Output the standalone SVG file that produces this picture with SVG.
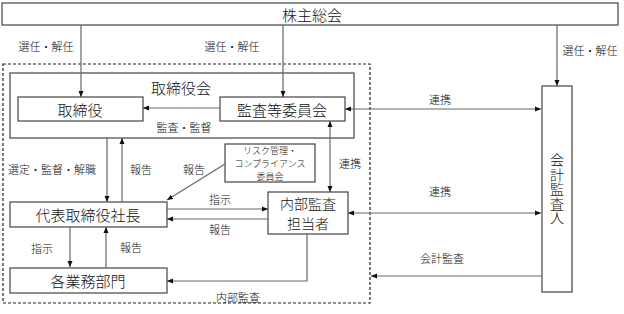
<svg xmlns="http://www.w3.org/2000/svg" width="624" height="314" viewBox="0 0 624 314">
<defs>
<marker id="ah" viewBox="0 0 6 6" refX="6" refY="3" markerWidth="6" markerHeight="6" markerUnits="userSpaceOnUse" orient="auto-start-reverse">
<path d="M0,0.5 L6,3 L0,5.5 Z" fill="#111"/>
</marker>
<style>
.box{fill:#fff;stroke:#444;stroke-width:1.2}
.grp{fill:none;stroke:#444;stroke-width:1.2}
.dash{fill:none;stroke:#222;stroke-width:1.2;stroke-dasharray:3,2}
.ln{fill:none;stroke:#666;stroke-width:1.2}
.t{font-family:"Noto Sans CJK JP","Noto Sans",sans-serif;font-weight:300;fill:#111;text-anchor:middle;dominant-baseline:central}
.big{font-size:15px}
.mid{font-size:14px}
.vert{font-family:"Noto Sans CJK JP","Noto Sans",sans-serif;font-weight:300;fill:#111;font-size:14px;writing-mode:vertical-rl;text-anchor:middle;letter-spacing:0.5px}
.lab{font-size:11px}
.sm{font-size:9px}
</style>
</defs>
<rect width="624" height="314" fill="#fff"/>
<g id="outer-scope"><rect class="dash" x="3" y="64" width="367" height="239"/></g>
<g id="shareholders"><rect class="box" x="2" y="3" width="616" height="22"/><text class="t big" x="312" y="14">株主総会</text></g>
<g id="board"><rect class="grp" x="10" y="73" width="344" height="65"/><text class="t big" x="181" y="87">取締役会</text></g>
<g id="directors"><rect class="box" x="18" y="97" width="125" height="24"/><text class="t big" x="80" y="109">取締役</text></g>
<g id="audit-committee"><rect class="box" x="220" y="97" width="125" height="24"/><text class="t big" x="282" y="109">監査等委員会</text></g>
<g id="risk-committee"><rect class="box" x="225" y="144" width="90" height="38"/>
<text class="t sm" x="270" y="150"><tspan x="270" y="150">リスク管理・</tspan><tspan x="270" y="163">コンプライアンス</tspan><tspan x="270" y="176">委員会</tspan></text></g>
<g id="president"><rect class="box" x="10" y="202" width="157" height="25"/><text class="t big" x="88" y="214">代表取締役社長</text></g>
<g id="internal-audit"><rect class="box" x="268" y="192" width="80" height="42"/><text class="t mid" x="308" y="203"><tspan x="308" y="203">内部監査</tspan><tspan x="308" y="223.3">担当者</tspan></text></g>
<g id="departments"><rect class="box" x="10" y="268" width="157" height="25"/><text class="t big" x="88" y="280">各業務部門</text></g>
<g id="accounting-auditor"><rect class="box" x="542" y="86" width="30" height="206"/>
<text class="vert" x="557" y="189">会計監査人</text></g>
<g id="connectors">
<path class="ln" d="M81,25 V97" marker-end="url(#ah)"/>
<path class="ln" d="M283,25 V97" marker-end="url(#ah)"/>
<path class="ln" d="M557,25 V86" marker-end="url(#ah)"/>
<path class="ln" d="M220,108 H143" marker-end="url(#ah)"/>
<path class="ln" d="M345,109 H541" marker-start="url(#ah)" marker-end="url(#ah)"/>
<path class="ln" d="M330,121 V192" marker-start="url(#ah)" marker-end="url(#ah)"/>
<path class="ln" d="M107,138 V202" marker-end="url(#ah)"/>
<path class="ln" d="M122,202 V138" marker-end="url(#ah)"/>
<path class="ln" d="M225,164 L167,200" marker-end="url(#ah)"/>
<path class="ln" d="M167,209 H268" marker-end="url(#ah)"/>
<path class="ln" d="M268,219 H167" marker-end="url(#ah)"/>
<path class="ln" d="M348,213 H541" marker-start="url(#ah)" marker-end="url(#ah)"/>
<path class="ln" d="M542,276 H371" marker-end="url(#ah)"/>
<path class="ln" d="M70,227 V267" marker-end="url(#ah)"/>
<path class="ln" d="M106,268 V227" marker-end="url(#ah)"/>
<path class="ln" d="M307,234 V281 H167" marker-end="url(#ah)"/>
<text class="t lab" x="46" y="46">選任・解任</text>
<text class="t lab" x="232" y="46">選任・解任</text>
<text class="t lab" x="590" y="50">選任・解任</text>
<text class="t lab" x="184" y="127">監査・監督</text>
<text class="t lab" x="440" y="99">連携</text>
<text class="t lab" x="52" y="169">選定・監督・解職</text>
<text class="t lab" x="141" y="169">報告</text>
<text class="t lab" x="194" y="169">報告</text>
<text class="t lab" x="350" y="163">連携</text>
<text class="t lab" x="220" y="199">指示</text>
<text class="t lab" x="220" y="229">報告</text>
<text class="t lab" x="440" y="191">連携</text>
<text class="t lab" x="42" y="248">指示</text>
<text class="t lab" x="131" y="247">報告</text>
<text class="t lab" x="442" y="258">会計監査</text>
<text class="t lab" x="238" y="297">内部監査</text>
</g>
</svg>
